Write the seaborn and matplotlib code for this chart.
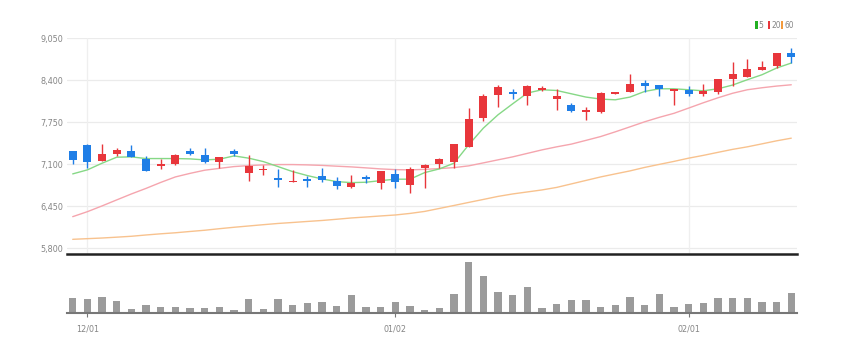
import matplotlib
matplotlib.use("Agg")
import matplotlib.pyplot as plt
from matplotlib.patches import Rectangle
import numpy as np
import pandas as pd
import seaborn as sns

# ---------------- data ----------------
opens = [7306, 7399, 7151, 7255, 7306, 7182, 7078, 7105, 7310, 7244,
         7140, 7301, 6961, 7007, 6893, 6821, 6868, 6919, 6846, 6744,
         6908, 6806, 6950, 6780, 7047, 7105, 7140, 7372, 7809, 8162,
         8219, 8146, 8250, 8115, 8007, 7905, 7899, 8188, 8208, 8358,
         8323, 8230, 8250, 8188, 8214, 8420, 8446, 8549, 8610, 8818]
closes = [7166, 7128, 7252, 7314, 7218, 7001, 7109, 7249, 7255, 7128,
          7205, 7264, 7078, 7027, 6852, 6846, 6837, 6857, 6769, 6815,
          6872, 7001, 6821, 7023, 7089, 7177, 7406, 7801, 8149, 8296,
          8188, 8304, 8276, 8146, 7925, 7940, 8199, 8208, 8343, 8312,
          8261, 8258, 8188, 8230, 8415, 8497, 8570, 8601, 8818, 8756]
highs = [7306, 7405, 7406, 7357, 7403, 7228, 7177, 7259, 7348, 7352,
         7205, 7332, 7244, 7094, 7023, 7012, 6919, 7038, 6908, 6939,
         6930, 7001, 7023, 7054, 7105, 7202, 7406, 7967, 8183, 8316,
         8261, 8320, 8312, 8261, 8053, 7976, 8209, 8219, 8497, 8394,
         8327, 8258, 8301, 8338, 8420, 8672, 8725, 8688, 8818, 8892]
lows = [7105, 7043, 7150, 7221, 7218, 6989, 7023, 7094, 7239, 7115,
        7047, 7228, 6846, 6930, 6753, 6821, 6753, 6831, 6713, 6729,
        6806, 6713, 6729, 6660, 6729, 7043, 7043, 7368, 7770, 7987,
        8106, 8010, 8224, 7930, 7899, 7786, 7894, 8183, 8208, 8219,
        8146, 8010, 8146, 8146, 8188, 8312, 8446, 8549, 8590, 8663]
ma5 = [6950, 7012, 7115, 7208, 7213, 7187, 7187, 7187, 7182, 7166,
       7177, 7228, 7193, 7140, 7063, 6985, 6924, 6872, 6831, 6815,
       6821, 6846, 6868, 6868, 6970, 7027, 7115, 7399, 7657, 7863,
       8033, 8199, 8250, 8239, 8188, 8137, 8106, 8095, 8137, 8224,
       8265, 8265, 8250, 8234, 8265, 8323, 8405, 8482, 8586, 8663]
ma20 = [6289, 6366, 6455, 6548, 6640, 6726, 6818, 6903, 6958, 7007,
        7035, 7063, 7078, 7089, 7094, 7094, 7089, 7081, 7069, 7058,
        7043, 7027, 7016, 7012, 7020, 7032, 7047, 7074, 7120, 7167,
        7213, 7267, 7321, 7368, 7410, 7468, 7527, 7600, 7677, 7755,
        7824, 7886, 7967, 8049, 8126, 8196, 8250, 8281, 8307, 8327]
ma60 = [5939, 5949, 5959, 5972, 5986, 6006, 6024, 6040, 6060, 6079,
        6103, 6125, 6145, 6165, 6184, 6199, 6215, 6230, 6249, 6269,
        6284, 6300, 6315, 6339, 6370, 6416, 6462, 6509, 6555, 6602,
        6640, 6671, 6702, 6741, 6795, 6849, 6903, 6950, 6996, 7050,
        7097, 7143, 7193, 7236, 7283, 7329, 7368, 7414, 7461, 7502]
volume = [47, 44, 49, 38, 14, 26, 20, 18, 15, 15,
          20, 9, 42, 13, 44, 26, 30, 33, 23, 54,
          20, 20, 33, 23, 9, 15, 57, 155, 112, 64,
          54, 78, 15, 29, 40, 40, 19, 26, 49, 24,
          58, 20, 28, 30, 45, 45, 45, 33, 33, 62]
volume = [v * 1000 for v in volume]
price_ticks = [5800, 6450, 7100, 7750, 8400, 9050]
date_tick_pos = [1, 22, 42]
date_tick_labels = ["12/01", "01/02", "02/01"]
legend_labels = ["5", "20", "60"]

# ---------------- style ----------------
sns.set_theme(style="white")
plt.rcParams["font.family"] = ["DejaVu Sans"]
plt.rcParams["font.stretch"] = "condensed"

UP = "#e8363b"
DOWN = "#1f7ee6"
C5 = "#86d886"
C20 = "#f5a5ae"
C60 = "#f8c28e"
TXT = "#858585"

W, H = 845, 353
fig = plt.figure(figsize=(W / 100, H / 100), dpi=100)

def fx(px):
    return px / W

def fy(py):
    return (H - py) / H

ax = fig.add_axes([fx(67), fy(254), fx(797) - fx(67), fy(38) - fy(254)])
axv = fig.add_axes([fx(67), fy(313.3), fx(797) - fx(67), fy(256) - fy(313.3)])

n = len(opens)
idx = np.arange(n)
df = pd.DataFrame({"i": idx, "open": opens, "close": closes, "high": highs,
                   "low": lows, "ma5": ma5, "ma20": ma20, "ma60": ma60,
                   "volume": volume})

# grid
for t in price_ticks:
    ax.axhline(t, color="#ebebeb", lw=0.9, zorder=0)
for p in date_tick_pos:
    ax.axvline(p, color="#efefef", lw=0.9, zorder=0)

# moving averages
sns.lineplot(data=df, x="i", y="ma60", ax=ax, color=C60, lw=1.0, zorder=2)
sns.lineplot(data=df, x="i", y="ma20", ax=ax, color=C20, lw=1.0, zorder=2)
sns.lineplot(data=df, x="i", y="ma5", ax=ax, color=C5, lw=1.0, zorder=3)

# candles
colors = [UP if c >= o else DOWN for o, c in zip(opens, closes)]
ax.vlines(idx, lows, highs, colors=colors, lw=1.0, zorder=4)
bottoms = np.minimum(opens, closes)
heights = np.maximum(np.abs(np.array(closes) - np.array(opens)), 18)
ax.bar(idx, heights, bottom=bottoms, width=0.55, color=colors, zorder=5,
       linewidth=0)

ax.set_xlim(-0.39, 49.39)
ax.set_ylim(5712, 9050)
ax.set_yticks(price_ticks)
ax.set_yticklabels([f"{t:,}" for t in price_ticks], color=TXT, fontsize=6.5)
ax.tick_params(axis="y", length=0, pad=3)
ax.set_xticks([])
ax.set_xlabel("")
ax.set_ylabel("")
for s in ["top", "left", "right"]:
    ax.spines[s].set_visible(False)
ax.spines["bottom"].set_color("#222222")
ax.spines["bottom"].set_linewidth(1.8)

# volume
sns.barplot(data=df, x="i", y="volume", ax=axv, native_scale=True,
            color="#9b9b9b", width=0.5, saturation=1, linewidth=0)
axv.set_xlim(-0.39, 49.39)
axv.set_ylim(0, 172000)
axv.set_yticks([])
axv.set_xticks(date_tick_pos)
axv.set_xticklabels(date_tick_labels, color=TXT, fontsize=6.5)
axv.tick_params(axis="x", length=3, width=0.8, color="#777777", pad=5,
                bottom=True)
axv.set_xlabel("")
axv.set_ylabel("")
for s in ["top", "left", "right"]:
    axv.spines[s].set_visible(False)
axv.spines["bottom"].set_color("#777777")
axv.spines["bottom"].set_linewidth(1.5)

# legend (top right)
leg_items = [(755, "#22b022", legend_labels[0], 758.8),
             (767.7, UP, legend_labels[1], 771.2),
             (780.7, "#f39a3c", legend_labels[2], 784.2)]
for xs, col, lab, xt in leg_items:
    fig.add_artist(Rectangle((fx(xs), fy(28.5)), fx(2.8), fy(21.5) - fy(28.5),
                             transform=fig.transFigure, color=col, lw=0))
    fig.text(fx(xt), fy(25), lab, color=TXT, fontsize=6.0, va="center",
             ha="left")

fig.savefig("out.png", dpi=100)
